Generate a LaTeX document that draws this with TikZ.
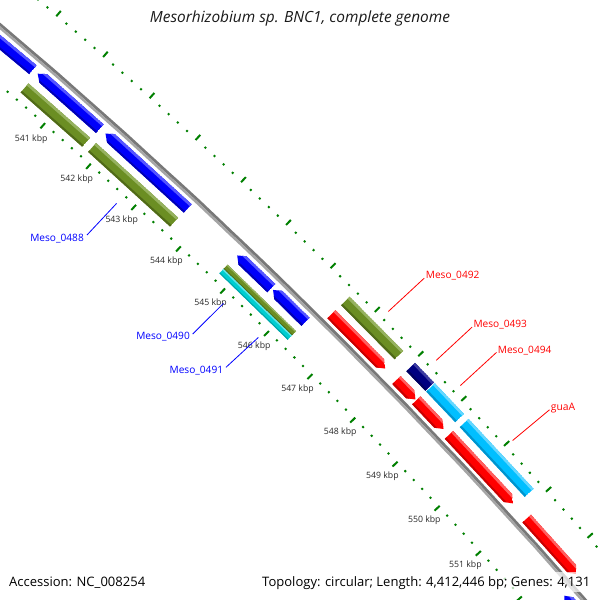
\documentclass[tikz,border=0pt]{standalone}
\usepackage{fontspec}
\setmainfont{Open Sans}
\usepackage{graphicx}
\definecolor{bl}{RGB}{0,0,250}\definecolor{blL}{RGB}{85,85,255}\definecolor{blD}{RGB}{0,0,180}
\definecolor{ol}{RGB}{107,142,35}\definecolor{olL}{RGB}{150,178,95}\definecolor{olD}{RGB}{80,106,24}
\definecolor{rd}{RGB}{255,0,0}\definecolor{rdL}{RGB}{255,95,95}\definecolor{rdD}{RGB}{200,0,0}
\definecolor{sk}{RGB}{0,191,255}\definecolor{skL}{RGB}{100,215,255}\definecolor{skD}{RGB}{0,148,205}
\definecolor{nv}{RGB}{0,0,128}\definecolor{nvL}{RGB}{60,60,160}\definecolor{nvD}{RGB}{0,0,95}
\definecolor{cy}{RGB}{0,206,209}\definecolor{cyL}{RGB}{100,228,230}\definecolor{cyD}{RGB}{0,165,170}
\definecolor{tkgreen}{RGB}{0,128,0}
\definecolor{tklab}{RGB}{40,40,40}
\definecolor{bbdark}{RGB}{120,120,120}
\definecolor{bblight}{RGB}{165,165,165}
\definecolor{lblue}{RGB}{0,0,255}
\definecolor{lred}{RGB}{255,0,0}
% feature: k1 k2 rin rout colour type(0 bar,1 forward arrow,2 reverse arrow)
\newcommand\feat[6]{%
 \pgfmathsetmacro\fa{-48.71+(#1-541)*0.636}%
 \pgfmathsetmacro\fb{-48.71+(#2-541)*0.636}%
 \pgfmathsetmacro\ri{#3}\pgfmathsetmacro\ro{#4}%
 \pgfmathsetmacro\rmd{(#3+#4)/2}%
 \pgfmathsetmacro\rli{#4-0.22*(#4-#3)}%
 \pgfmathsetmacro\rdo{#3+0.18*(#4-#3)}%
 \pgfmathsetmacro\rox{#4+1}\pgfmathsetmacro\rix{#3-1}%
 \pgfmathsetmacro\fae{\fa-0.1}\pgfmathsetmacro\fbe{\fb+0.1}%
 \ifcase#6\relax
   \def\fshape{(\fa:\ri)--(\fa:\ro)--(\fb:\ro)--(\fb:\ri)--cycle}%
 \or
   \pgfmathsetmacro\fh{\fb-0.075}%
   \def\fshape{(\fa:\ri)--(\fa:\ro)--(\fh:\ro)--(\fb:\rmd)--(\fh:\ri)--cycle}%
 \or
   \pgfmathsetmacro\fh{\fa+0.075}%
   \def\fshape{(\fa:\rmd)--(\fh:\ro)--(\fb:\ro)--(\fb:\ri)--(\fh:\ri)--cycle}%
 \fi
 \begin{scope}
   \clip \fshape;
   \fill[#5] \fshape;
   \fill[#5L] (\fae:\rli)--(\fae:\rox)--(\fbe:\rox)--(\fbe:\rli)--cycle;
   \fill[#5D] (\fae:\rix)--(\fae:\rdo)--(\fbe:\rdo)--(\fbe:\rix)--cycle;
 \end{scope}}
\begin{document}
\begin{tikzpicture}[x=1pt,y=-1pt,
  tick/.style={draw=tkgreen, line width=2pt},
  tklbl/.style={text=tklab, inner sep=0pt},
  glabel/.style={inner sep=0pt},
  bline/.style={draw=lblue, line width=0.8pt},
  rline/.style={draw=lred, line width=0.8pt}]
\useasboundingbox (0,0) rectangle (600,600);
\clip (0,0) rectangle (600,600);
\fill[white] (0,0) rectangle (600,600);
\begin{scope}[shift={(-3588,4260)}]
 % backbone
 \draw[bbdark, line width=2.8pt] plot[domain=-50.6:-40.2, samples=70] (\x:5551.3);
 \draw[bblight, line width=2.4pt] plot[domain=-50.6:-40.2, samples=70] (\x:5548.7);
 % ticks
 \foreach \i in {0,...,90}{
   \pgfmathsetmacro\ang{-48.71+(0.2*\i-4)*0.636}
   \pgfmathtruncatemacro\mj{mod(\i,5)}
   \ifnum\mj=0
     \draw[tick] (\ang:5506) -- (\ang:5499);
     \draw[tick] (\ang:5594) -- (\ang:5601);
   \else
     \draw[tick] (\ang:5506) -- (\ang:5504);
     \draw[tick] (\ang:5594) -- (\ang:5596);
   \fi
 }
 % tick labels
 \foreach \k in {541,...,551}{
   \pgfmathsetmacro\ang{-48.71+(\k-541)*0.636}
   \node[tklbl] (t\k) at (\ang:5485) {\resizebox{32.5pt}{!}{\k\ kbp}};
 }
 % reverse strand, slot 1
 \feat{537}{540.28}{5532.5}{5544}{bl}{2}
 \feat{540.38}{541.73}{5532.5}{5544}{bl}{2}
 \feat{541.85}{543.66}{5532.5}{5544}{bl}{2}
 \feat{544.77}{545.54}{5532.5}{5544}{bl}{2}
 \feat{545.58}{546.32}{5532.5}{5544}{bl}{2}
 \feat{552.45}{556}{5532.5}{5544}{bl}{2}
 % reverse strand, slot 2
 \feat{540.37}{541.71}{5513}{5525}{ol}{0}
 \feat{541.84}{543.65}{5513}{5525}{ol}{0}
 \feat{544.76}{546.32}{5519}{5525}{ol}{0}
 \feat{544.76}{546.32}{5513}{5519}{cy}{0}
 % forward strand, slot 1
 \feat{546.53}{547.77}{5556}{5567.5}{rd}{1}
 \feat{548.03}{548.47}{5556}{5567.5}{rd}{1}
 \feat{548.49}{549.13}{5556}{5567.5}{rd}{1}
 \feat{549.26}{550.78}{5556}{5567.5}{rd}{1}
 \feat{551.11}{552.32}{5556}{5567.5}{rd}{1}
 % forward strand, slot 2
 \feat{546.54}{547.77}{5575}{5587}{ol}{0}
 \feat{548.04}{548.48}{5575}{5587}{nv}{0}
 \feat{548.50}{549.18}{5575}{5587}{sk}{0}
 \feat{549.29}{550.83}{5575}{5587}{sk}{0}
 % label line ends
 \pgfmathsetmacro\ang{-48.71+(542.75-541)*0.636}\coordinate (e488) at (\ang:5494);
 \pgfmathsetmacro\ang{-48.71+(545.15-541)*0.636}\coordinate (e490) at (\ang:5494);
 \pgfmathsetmacro\ang{-48.71+(545.95-541)*0.636}\coordinate (e491) at (\ang:5494);
 \pgfmathsetmacro\ang{-48.71+(547.15-541)*0.636}\coordinate (e492) at (\ang:5604);
 \pgfmathsetmacro\ang{-48.71+(548.25-541)*0.636}\coordinate (e493) at (\ang:5604);
 \pgfmathsetmacro\ang{-48.71+(548.81-541)*0.636}\coordinate (e494) at (\ang:5604);
 \pgfmathsetmacro\ang{-48.71+(550.03-541)*0.636}\coordinate (egua) at (\ang:5604);
\end{scope}
% gene labels
\node[glabel, text=lblue, anchor=base east] (L488) at (84,241) {\resizebox{53.5pt}{!}{Meso\_0488}};
\node[glabel, text=lblue, anchor=base east] (L490) at (190,339.7) {\resizebox{53.5pt}{!}{Meso\_0490}};
\node[glabel, text=lblue, anchor=base east] (L491) at (223.3,373) {\resizebox{53.5pt}{!}{Meso\_0491}};
\node[glabel, text=lred, anchor=base west] (L492) at (425.7,278.7) {\resizebox{53.5pt}{!}{Meso\_0492}};
\node[glabel, text=lred, anchor=base west] (L493) at (473.3,327.7) {\resizebox{53.5pt}{!}{Meso\_0493}};
\node[glabel, text=lred, anchor=base west] (L494) at (497.7,353) {\resizebox{53.5pt}{!}{Meso\_0494}};
\node[glabel, text=lred, anchor=base west] (Lgua) at (550.7,410.4) {\resizebox{24.3pt}{!}{guaA}};
\draw[bline] ([xshift=3pt,yshift=6pt]L488.base east) -- (e488);
\draw[bline] ([xshift=2.7pt,yshift=5.7pt]L490.base east) -- (e490);
\draw[bline] ([xshift=2.7pt,yshift=5.7pt]L491.base east) -- (e491);
\draw[rline] ([xshift=-1.4pt,yshift=0.6pt]L492.base west) -- (e492);
\draw[rline] ([xshift=-1.2pt,yshift=0.6pt]L493.base west) -- (e493);
\draw[rline] ([xshift=-1.2pt,yshift=0.6pt]L494.base west) -- (e494);
\draw[rline] ([xshift=-1.2pt,yshift=0.6pt]Lgua.base west) -- (egua);
% title and legend
\node[inner sep=0pt, anchor=base, text={rgb,255:red,26;green,26;blue,26}] (title) at (300,22.7) {\resizebox{300pt}{!}{\itshape Mesorhizobium sp. BNC1, complete genome}};
\fill[white, opacity=0.7] (258,572) rectangle (597,592);
\node[inner sep=0pt, anchor=base west] (acc) at (9,586.5) {\resizebox{136pt}{!}{Accession: NC\_008254}};
\node[inner sep=0pt, anchor=base west] (topo) at (262,586.5) {\resizebox{328pt}{!}{Topology: circular; Length: 4,412,446 bp; Genes: 4,131}};
\end{tikzpicture}
\end{document}
